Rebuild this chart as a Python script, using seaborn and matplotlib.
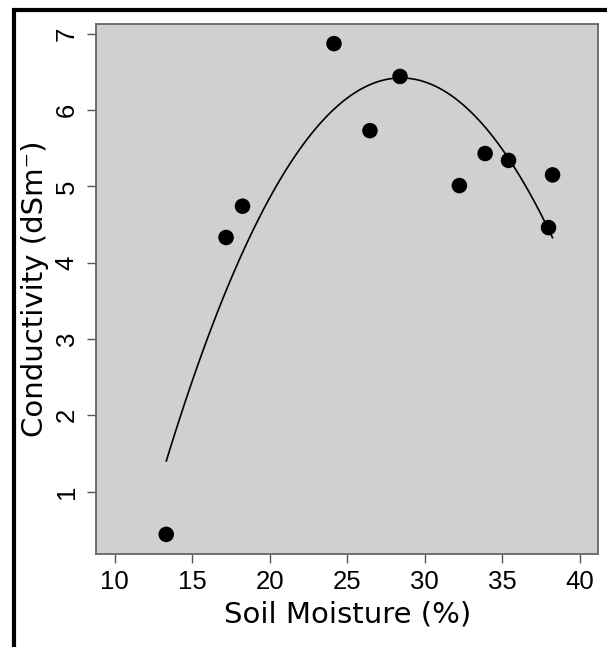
import matplotlib
matplotlib.use("Agg")
import matplotlib.pyplot as plt
import seaborn as sns
import numpy as np
import pandas as pd
from matplotlib.lines import Line2D

# Data
soil_moisture = [13.33, 17.19, 18.25, 24.15, 26.47, 28.41, 32.24, 33.90, 35.41, 37.99, 38.25]
conductivity = [0.44, 4.33, 4.74, 6.87, 5.73, 6.44, 5.01, 5.43, 5.34, 4.46, 5.15]
x_ticks = [10, 15, 20, 25, 30, 35, 40]
y_ticks = [1, 2, 3, 4, 5, 6, 7]

df = pd.DataFrame({"moisture": soil_moisture, "cond": conductivity})

sns.set_style("white")
plt.rcParams["font.family"] = ["DejaVu Sans"]
plt.rcParams["text.color"] = "black"
plt.rcParams["axes.labelcolor"] = "black"

W, H = 607, 647
fig = plt.figure(figsize=(W / 100, H / 100), dpi=100)
fig.patch.set_facecolor("white")
ax = fig.add_axes([96 / W, 1 - 554 / H, (598.3 - 96) / W, (554 - 24) / H])
ax.set_facecolor("#d0d0d0")

sns.regplot(data=df, x="moisture", y="cond", order=2, ci=None, ax=ax,
            scatter_kws=dict(s=125, color="black", edgecolor="none", alpha=1, zorder=3),
            line_kws=dict(color="black", lw=1.2, zorder=2))

# R-style 4% axis extension
ax.set_xlim(10 - 1.2, 40 + 1.2)
ymin, ymax = min(conductivity), max(conductivity)
ext = 0.04 * (ymax - ymin)
ax.set_ylim(ymin - ext, ymax + ext)

ax.set_xticks(x_ticks)
ax.set_yticks(y_ticks)
ax.set_xticklabels([str(v) for v in x_ticks], fontsize=18.5, family="Liberation Sans")
ax.set_yticklabels([str(v) for v in y_ticks], fontsize=18.5, family="Liberation Sans",
                   rotation=90, va="center")
ax.tick_params(axis="both", direction="out", length=6.5, width=1, color="#555555",
               labelcolor="black", bottom=True, left=True)
ax.tick_params(axis="x", pad=5)
ax.tick_params(axis="y", pad=6)
for sp in ax.spines.values():
    sp.set_color("#666666")
    sp.set_linewidth(1.3)

ax.set_xlabel("Soil Moisture (%)", fontsize=21, labelpad=5, color="black")
ax.set_ylabel("Conductivity (dSm\u207b)", fontsize=21, labelpad=4, color="black")

# black frame lines (left and top)
fig.add_artist(Line2D([14.2 / W, 14.2 / W], [0, 1 - 10.3 / H], transform=fig.transFigure,
                      color="black", lw=3.0, solid_capstyle="butt"))
fig.add_artist(Line2D([12.5 / W, 1], [1 - 10.3 / H, 1 - 10.3 / H], transform=fig.transFigure,
                      color="black", lw=3.0, solid_capstyle="butt"))

fig.savefig("out.png", dpi=100, facecolor="white")
